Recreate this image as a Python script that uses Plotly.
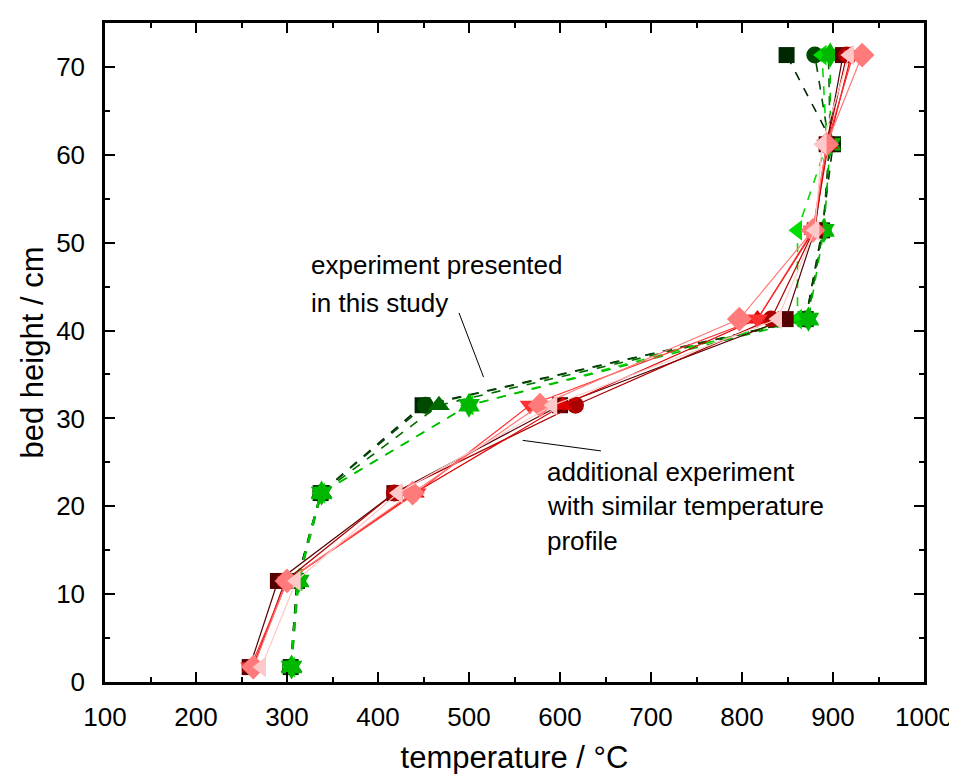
import plotly.graph_objects as go

heights = [1.7, 11.5, 21.5, 31.5, 41.3, 51.4, 61.2, 71.35]

# experiment presented in this study (green, dashed)
g_square = [304, 311, 337, 449, 870, 888, 900, 849]
g_circle = [304, 311, 337, 452, 870, 889, 896, 880]
g_triangle = [305, 312, 338, 467, 872, 889, 897, 895]
g_left = [304, 312, 337, 500, 861, 861, 893, 888]
g_star = [305, 313, 338, 500, 873, 890, 897, 897]

# additional experiment (red, solid)
r_square = [259, 290, 418, 600, 848, 880, 893, 911]
r_circle = [263, 298, 418, 617, 832, 879, 893, 915]
r_triup = [262, 300, 440, 603, 817, 879, 895, 920]
r_tridown = [260, 300, 442, 567, 817, 878, 893, 922]
r_diamond = [263, 300, 438, 578, 797, 878, 893, 932]
r_left = [272, 310, 422, 592, 839, 880, 888, 918]

x_ticks = [100, 200, 300, 400, 500, 600, 700, 800, 900, 1000]
y_ticks = [0, 10, 20, 30, 40, 50, 60, 70]

green_series = [
    (g_square, "#002800", "square", 16),
    (g_circle, "#004a00", "circle", 17),
    (g_triangle, "#006a00", "triangle-up", 19),
    (g_left, "#00dd00", "triangle-left", 18),
    (g_star, "#00b800", "hexagram", 19),
]
red_series = [
    (r_square, "#550000", "square", 16),
    (r_circle, "#aa0000", "circle", 17),
    (r_triup, "#dd0000", "triangle-up", 18),
    (r_tridown, "#ff3030", "triangle-down", 18),
    (r_diamond, "#ff7a7a", "diamond", 19),
    (r_left, "#ffc8c8", "triangle-left", 18),
]

fig = go.Figure()
for vals, col, sym, sz in green_series:
    fig.add_trace(go.Scatter(
        x=vals, y=heights, mode="lines+markers",
        line=dict(color=col, width=1.6, dash="dash"),
        marker=dict(symbol=sym, size=sz, color=col, line=dict(width=0)),
        showlegend=False))
for vals, col, sym, sz in red_series:
    fig.add_trace(go.Scatter(
        x=vals, y=heights, mode="lines+markers",
        line=dict(color=col, width=1.2),
        marker=dict(symbol=sym, size=sz, color=col, line=dict(width=0)),
        showlegend=False))

font = "Liberation Sans, Arial, sans-serif"
ann_font = dict(family=font, size=26, color="black")
for txt, x, y in [("experiment presented", 324, 47.5),
                  ("in this study", 324, 43.1),
                  ("additional experiment", 584, 23.9),
                  ("with similar temperature", 584, 20.0),
                  ("profile", 584, 16.1)]:
    fig.add_annotation(x=x, y=y, xref="x", yref="y", text=txt, showarrow=False,
                       xanchor="left", yanchor="middle", font=ann_font)

fig.add_shape(type="line", xref="x", yref="y", x0=489, y0=42.0, x1=516, y1=34.7,
              line=dict(color="black", width=1))
fig.add_shape(type="line", xref="x", yref="y", x0=559, y0=27.5, x1=645, y1=26.3,
              line=dict(color="black", width=1))

axis_common = dict(showgrid=False, zeroline=False, showline=True, linecolor="black",
                   linewidth=2.5, mirror="ticks", ticks="inside", ticklen=10,
                   tickwidth=2, tickcolor="black",
                   tickfont=dict(family=font, size=26, color="black"))

fig.update_xaxes(range=[100, 1000], tickvals=x_ticks, ticktext=[str(v) for v in x_ticks],
                 ticklabelstandoff=10,
                 minor=dict(dtick=50, tick0=0, ticks="inside", ticklen=5, tickwidth=2,
                            tickcolor="black"),
                 title=dict(text="temperature / °C", font=dict(family=font, size=31, color="black"),
                            standoff=16),
                 **axis_common)
fig.update_yaxes(range=[0, 75], tickvals=y_ticks, ticktext=[str(v) for v in y_ticks],
                 ticklabelstandoff=12,
                 minor=dict(dtick=5, tick0=0, ticks="inside", ticklen=5, tickwidth=2,
                            tickcolor="black"),
                 title=dict(text="bed height / cm", font=dict(family=font, size=31, color="black"),
                            standoff=4),
                 **axis_common)

fig.update_layout(width=957, height=774, margin=dict(l=97, r=33, t=14, b=94),
                  plot_bgcolor="white", paper_bgcolor="white")

fig.write_html("out.html")
